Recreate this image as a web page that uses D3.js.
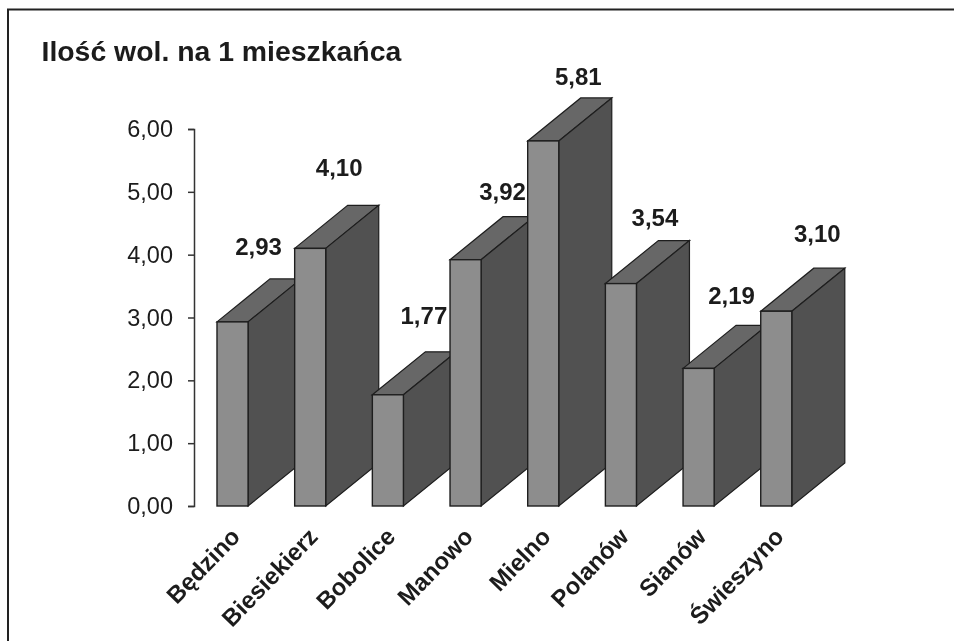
<!DOCTYPE html>
<html>
<head>
<meta charset="utf-8">
<script src="https://cdn.jsdelivr.net/npm/d3@7"></script>
<style>
  html, body { margin: 0; padding: 0; background: #fff; }
  svg { display: block; filter: blur(0.45px); }
  text { font-family: "Liberation Sans", Arial, sans-serif; fill: #1c1c1c; }
</style>
</head>
<body>
<svg id="chart"></svg>
<script>
const gminy = ['Będzino','Biesiekierz','Bobolice','Manowo','Mielno','Polanów','Sianów','Świeszyno'];
const wolPerCapita = [2.93, 4.10, 1.77, 3.92, 5.81, 3.54, 2.19, 3.10];
const yTicks = [0, 1, 2, 3, 4, 5, 6];
const chartTitle = 'Ilość wol. na 1 mieszkańca';

const width = 954,
  height = 641,
  axisX = 194,
  y0 = 506,
  y6 = 129,
  depthX = 53,
  depthY = 43;

// the original labels sit by hand, not in a regular offset from the bars
const labelShiftX = [26, 29, 36, 37, 35, 34, 33, 41];
const labelShiftY = [75, 80, 79, 68, 64, 66, 72, 77];

const fmt = d => d.toFixed(2).replace('.', ',');

const svg = d3.select('#chart')
  .attr('width', width)
  .attr('height', height);

svg.append('path')
  .attr('d', `M8,${height}V9.5H${width}`)
  .attr('fill', 'none')
  .attr('stroke', '#222')
  .attr('stroke-width', 2);

svg.append('text')
  .attr('x', 41.5)
  .attr('y', 61)
  .attr('font-size', 28.4)
  .attr('font-weight', 'bold')
  .text(chartTitle);

const x = d3.scaleBand()
  .domain(gminy)
  .range([axisX, axisX + 77.6 * gminy.length])
  .paddingInner(0.6)
  .paddingOuter(0.296);

const y = d3.scaleLinear()
  .domain([0, 6])
  .range([y0, y6]);

const yAxis = d3.axisLeft(y)
  .tickValues(yTicks)
  .tickFormat(fmt)
  .tickSize(6)
  .tickPadding(15);

const axisG = svg.append('g')
  .attr('transform', `translate(${axisX},0)`)
  .call(yAxis);

axisG.selectAll('path, line')
  .attr('stroke', '#333')
  .attr('stroke-width', 1.5);

axisG.selectAll('text')
  .attr('font-size', 23.5)
  .attr('font-family', '"Liberation Sans", Arial, sans-serif');

const rows = gminy.map((name, i) => ({name, value: wolPerCapita[i], i}));

const bar = svg.selectAll('.bar')
  .data(rows)
  .enter()
  .append('g')
  .attr('class', 'bar');

const edge = '#1e1e1e';

// top face
bar.append('path')
  .attr('d', d => {
    const l = x(d.name), r = l + x.bandwidth(), t = y(d.value);
    return `M${l},${t}L${l + depthX},${t - depthY}H${r + depthX}L${r},${t}Z`;
  })
  .attr('fill', '#676767')
  .attr('stroke', edge)
  .attr('stroke-width', 1.2);

// side face
bar.append('path')
  .attr('d', d => {
    const r = x(d.name) + x.bandwidth(), t = y(d.value);
    return `M${r},${t}L${r + depthX},${t - depthY}V${y0 - depthY}L${r},${y0}Z`;
  })
  .attr('fill', '#515151')
  .attr('stroke', edge)
  .attr('stroke-width', 1.2);

// front face
bar.append('rect')
  .attr('x', d => x(d.name))
  .attr('y', d => y(d.value))
  .attr('width', x.bandwidth())
  .attr('height', d => y0 - y(d.value))
  .attr('fill', '#8d8d8d')
  .attr('stroke', edge)
  .attr('stroke-width', 1.4);

svg.selectAll('.value')
  .data(rows)
  .enter()
  .append('text')
  .attr('class', 'value')
  .attr('x', d => x(d.name) + x.bandwidth() / 2 + labelShiftX[d.i])
  .attr('y', d => y(d.value) - labelShiftY[d.i] + 8)
  .attr('text-anchor', 'middle')
  .attr('font-size', 24)
  .attr('font-weight', 'bold')
  .text(d => fmt(d.value));

svg.selectAll('.cat')
  .data(rows)
  .enter()
  .append('text')
  .attr('class', 'cat')
  .attr('transform', d => `translate(${x(d.name) + x.bandwidth() / 2 + 9},${y0 + 32}) rotate(-46)`)
  .attr('text-anchor', 'end')
  .attr('font-size', 24)
  .attr('font-weight', 'bold')
  .text(d => d.name);
</script>
</body>
</html>
